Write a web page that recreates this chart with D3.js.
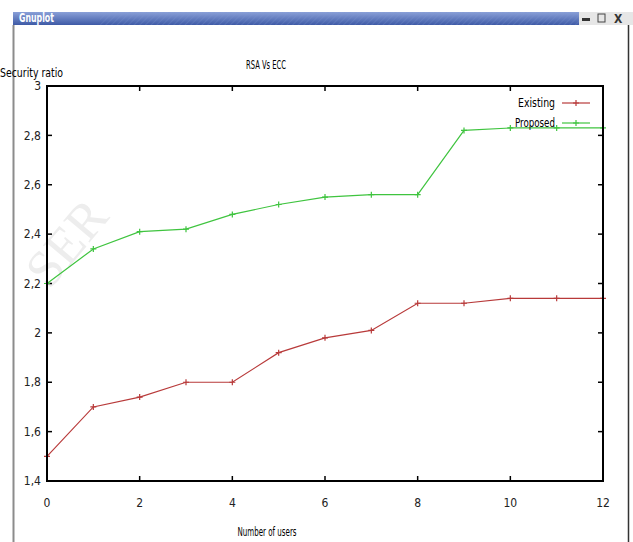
<!DOCTYPE html>
<html>
<head>
<meta charset="utf-8">
<script src="https://cdn.jsdelivr.net/npm/d3@7"></script>
<style>
  body { margin: 0; background: #fff; }
  text { font-family: "Liberation Sans Narrow", "DejaVu Sans Condensed", "DejaVu Sans", sans-serif; font-stretch: condensed; }
</style>
</head>
<body>
<div id="chart"></div>
<script>
const width = 633;
const height = 542;

// data
const users = [0, 1, 2, 3, 4, 5, 6, 7, 8, 9, 10, 11, 12];
const existing = [1.5, 1.7, 1.74, 1.8, 1.8, 1.92, 1.98, 2.01, 2.12, 2.12, 2.14, 2.14, 2.14];
const proposed = [2.2, 2.34, 2.41, 2.42, 2.48, 2.52, 2.55, 2.56, 2.56, 2.82, 2.83, 2.83, 2.83];
const xTicks = [0, 2, 4, 6, 8, 10, 12];
const yTicks = [1.4, 1.6, 1.8, 2, 2.2, 2.4, 2.6, 2.8, 3];
const seriesNames = ["Existing", "Proposed"];

const svg = d3.select("#chart")
    .append("svg")
    .attr("width", width)
    .attr("height", height);

// window frame (title bar etc)
const defs = svg.append("defs");
const grad = defs.append("linearGradient")
    .attr("id", "bar")
    .attr("x1", 0).attr("y1", 0).attr("x2", 0).attr("y2", 1);
grad.append("stop").attr("offset", 0).attr("stop-color", "#8aa0d8");
grad.append("stop").attr("offset", 1).attr("stop-color", "#3e5aa6");

const hatch = defs.append("pattern")
    .attr("id", "hatch")
    .attr("width", 4).attr("height", 4)
    .attr("patternUnits", "userSpaceOnUse")
    .attr("patternTransform", "rotate(45)");
hatch.append("line")
    .attr("x1", 0).attr("y1", 0).attr("x2", 0).attr("y2", 4)
    .attr("stroke", "#7d95d0").attr("stroke-width", 1).attr("opacity", 0.5);

svg.append("rect").attr("x", 13).attr("y", 12).attr("width", 566).attr("height", 13).attr("fill", "url(#bar)");
svg.append("rect").attr("x", 100).attr("y", 12).attr("width", 479).attr("height", 13).attr("fill", "url(#hatch)");
svg.append("rect").attr("x", 579).attr("y", 12).attr("width", 54).attr("height", 13).attr("fill", "#e6e6e6");
svg.append("text")
    .attr("x", 19).attr("y", 22)
    .attr("fill", "#fff")
    .style("font-size", "12px")
    .style("font-weight", "bold")
    .attr("textLength", 35)
    .attr("lengthAdjust", "spacingAndGlyphs")
    .text("Gnuplot");

// window buttons
svg.append("rect").attr("x", 582).attr("y", 18).attr("width", 8).attr("height", 3).attr("fill", "#333");
svg.append("rect").attr("x", 598).attr("y", 14).attr("width", 7).attr("height", 8)
    .attr("fill", "none").attr("stroke", "#444").attr("stroke-width", 1);
svg.append("text").attr("x", 614).attr("y", 23).attr("fill", "#333")
    .style("font-size", "12px").style("font-weight", "bold").text("X");

svg.append("line").attr("x1", 13.5).attr("x2", 13.5).attr("y1", 25).attr("y2", height)
    .attr("stroke", "#8c8c8c").attr("stroke-width", 2);
svg.append("line").attr("x1", 628.5).attr("x2", 628.5).attr("y1", 25).attr("y2", height)
    .attr("stroke", "#333").attr("stroke-width", 1.5);

// faint watermark
svg.append("text")
    .attr("transform", "translate(80,254) rotate(-50)")
    .attr("text-anchor", "middle")
    .attr("fill", "#ededed")
    .style("font-family", "Liberation Serif, serif")
    .style("font-size", "52px")
    .text("SER");

const plotLeft = 47, plotRight = 603, plotTop = 86, plotBottom = 481;

let xScale = d3.scaleLinear()
    .domain([0, 12])
    .range([plotLeft, plotRight]);

let yScale = d3.scaleLinear()
    .domain([1.4, 3])
    .range([plotBottom, plotTop]);

const colorScale = d3.scaleOrdinal()
    .domain(seriesNames)
    .range(["#b83a3a", "#3fc43f"]);

// tick marks, mirrored on all sides like gnuplot
const ticks = svg.append("g").attr("stroke", "#000").attr("stroke-width", 1.5);
xTicks.slice(1, -1).forEach(t => {
    ticks.append("line").attr("x1", xScale(t)).attr("x2", xScale(t)).attr("y1", plotBottom).attr("y2", plotBottom - 5);
    ticks.append("line").attr("x1", xScale(t)).attr("x2", xScale(t)).attr("y1", plotTop).attr("y2", plotTop + 5);
});
yTicks.slice(1, -1).forEach(t => {
    ticks.append("line").attr("x1", plotLeft).attr("x2", plotLeft + 5).attr("y1", yScale(t)).attr("y2", yScale(t));
    ticks.append("line").attr("x1", plotRight).attr("x2", plotRight - 5).attr("y1", yScale(t)).attr("y2", yScale(t));
});

// tick labels
svg.append("g").selectAll("text")
    .data(yTicks)
    .enter()
    .append("text")
    .attr("x", 41)
    .attr("y", d => yScale(d))
    .attr("dy", "0.35em")
    .attr("text-anchor", "end")
    .attr("fill", "#222")
    .style("font-size", "12px")
    .text(d => String(d).replace(".", ","));

svg.append("g").selectAll("text")
    .data(xTicks)
    .enter()
    .append("text")
    .attr("x", d => xScale(d))
    .attr("y", 503)
    .attr("dy", "0.35em")
    .attr("text-anchor", "middle")
    .attr("fill", "#222")
    .style("font-size", "12px")
    .text(d => d);

// titles
svg.append("text")
    .attr("x", 266).attr("y", 69)
    .attr("text-anchor", "middle")
    .style("font-size", "12px")
    .attr("textLength", 40)
    .attr("lengthAdjust", "spacingAndGlyphs")
    .text("RSA Vs ECC");

svg.append("text")
    .attr("x", 267).attr("y", 536)
    .attr("text-anchor", "middle")
    .style("font-size", "12px")
    .attr("textLength", 59)
    .attr("lengthAdjust", "spacingAndGlyphs")
    .text("Number of users");

svg.append("text")
    .attr("x", 0).attr("y", 77)
    .style("font-size", "12px")
    .attr("textLength", 63)
    .attr("lengthAdjust", "spacingAndGlyphs")
    .text("Security ratio");

// lines
const series = [
    { name: "Existing", values: existing },
    { name: "Proposed", values: proposed }
];

const line = d3.line()
    .x((d, i) => xScale(users[i]))
    .y(d => yScale(d));

series.forEach(s => {
    svg.append("path")
        .attr("d", line(s.values))
        .attr("fill", "none")
        .attr("stroke", colorScale(s.name))
        .attr("stroke-width", 1.2);

    svg.append("g").selectAll("path")
        .data(s.values)
        .enter()
        .append("path")
        .attr("d", (d, i) => {
            const x = xScale(users[i]), y = yScale(d);
            return `M${x - 3},${y}H${x + 3}M${x},${y - 3}V${y + 3}`;
        })
        .attr("stroke", colorScale(s.name))
        .attr("stroke-width", 1.2);
});

// plot border
svg.append("rect")
    .attr("x", plotLeft).attr("y", plotTop)
    .attr("width", plotRight - plotLeft).attr("height", plotBottom - plotTop)
    .attr("fill", "none")
    .attr("stroke", "#000")
    .attr("stroke-width", 2);

// legend
const legend = svg.selectAll(".legend")
    .data(seriesNames)
    .enter()
    .append("g")
    .attr("class", "legend")
    .attr("transform", (d, i) => `translate(0, ${103 + i * 20})`);

legend.append("text")
    .attr("x", 555)
    .attr("dy", "0.35em")
    .attr("text-anchor", "end")
    .style("font-size", "12px")
    .attr("textLength", d => d === "Existing" ? 37 : 40)
    .attr("lengthAdjust", "spacingAndGlyphs")
    .text(d => d);

legend.append("line")
    .attr("x1", 562).attr("x2", 590)
    .attr("stroke", colorScale)
    .attr("stroke-width", 1.2);

legend.append("path")
    .attr("d", "M573,0H579M576,-3V3")
    .attr("stroke", colorScale)
    .attr("stroke-width", 1.2);
</script>
</body>
</html>
